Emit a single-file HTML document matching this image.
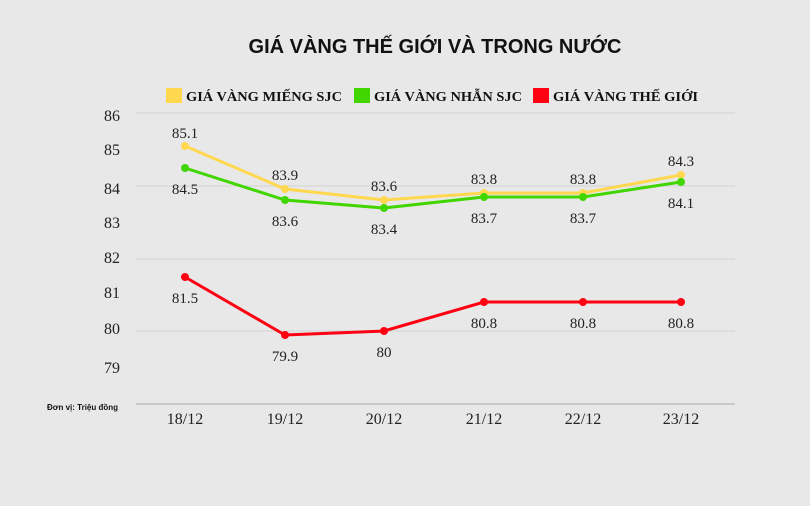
<!DOCTYPE html><html><head><style>body{margin:0;background:#e8e8e8;}svg{display:block}</style></head><body>
<svg width="810" height="506" xmlns="http://www.w3.org/2000/svg">
<rect width="810" height="506" fill="#e8e8e8"/>
<text x="435" y="53" text-anchor="middle" font-family="Liberation Sans, sans-serif" font-weight="bold" font-size="20" fill="#111">GIÁ VÀNG THẾ GIỚI VÀ TRONG NƯỚC</text>
<g font-family="Liberation Serif, serif" font-weight="bold" font-size="14" fill="#111">
<rect x="166" y="88" width="16" height="15" fill="#ffd84f"/><text x="186" y="101" textLength="156" lengthAdjust="spacingAndGlyphs">GIÁ VÀNG MIẾNG SJC</text>
<rect x="354" y="88" width="16" height="15" fill="#41d600"/><text x="374" y="101" textLength="148" lengthAdjust="spacingAndGlyphs">GIÁ VÀNG NHẪN SJC</text>
<rect x="533" y="88" width="16" height="15" fill="#ff0013"/><text x="553" y="101" textLength="145" lengthAdjust="spacingAndGlyphs">GIÁ VÀNG THẾ GIỚI</text>
</g>
<g stroke="#d2d2d2" stroke-width="1">
<line x1="136" y1="113" x2="735" y2="113"/><line x1="136" y1="186" x2="735" y2="186"/><line x1="136" y1="259" x2="735" y2="259"/><line x1="136" y1="331" x2="735" y2="331"/>
</g>
<line x1="136" y1="404" x2="735" y2="404" stroke="#bdbdbd" stroke-width="1.5"/>
<g font-family="Liberation Serif, serif" font-size="16" fill="#222" text-anchor="middle">
<text x="112" y="121">86</text><text x="112" y="155">85</text><text x="112" y="194">84</text><text x="112" y="228">83</text><text x="112" y="263">82</text><text x="112" y="298">81</text><text x="112" y="334">80</text><text x="112" y="373">79</text>
<text x="185" y="424">18/12</text><text x="285" y="424">19/12</text><text x="384" y="424">20/12</text><text x="484" y="424">21/12</text><text x="583" y="424">22/12</text><text x="681" y="424">23/12</text>
</g>
<text x="47" y="410" font-family="Liberation Sans, sans-serif" font-weight="bold" font-size="8" fill="#111">Đơn vị: Triệu đồng</text>
<g stroke-width="3" fill="none">
<polyline stroke="#ffd84f" points="185,146 285,189 384,200 484,193 583,193 681,175"/>
<polyline stroke="#41d600" points="185,168 285,200 384,208 484,197 583,197 681,182"/>
<polyline stroke="#ff0013" points="185,277 285,335 384,331 484,302 583,302 681,302"/>
</g>
<g fill="#ffd84f"><circle cx="185" cy="146" r="4"/><circle cx="285" cy="189" r="4"/><circle cx="384" cy="200" r="4"/><circle cx="484" cy="193" r="4"/><circle cx="583" cy="193" r="4"/><circle cx="681" cy="175" r="4"/></g>
<g fill="#41d600"><circle cx="185" cy="168" r="4"/><circle cx="285" cy="200" r="4"/><circle cx="384" cy="208" r="4"/><circle cx="484" cy="197" r="4"/><circle cx="583" cy="197" r="4"/><circle cx="681" cy="182" r="4"/></g>
<g fill="#ff0013"><circle cx="185" cy="277" r="4"/><circle cx="285" cy="335" r="4"/><circle cx="384" cy="331" r="4"/><circle cx="484" cy="302" r="4"/><circle cx="583" cy="302" r="4"/><circle cx="681" cy="302" r="4"/></g>
<g font-family="Liberation Serif, serif" font-size="15" fill="#222" text-anchor="middle">
<text x="185" y="138">85.1</text><text x="285" y="180">83.9</text><text x="384" y="191">83.6</text><text x="484" y="184">83.8</text><text x="583" y="184">83.8</text><text x="681" y="166">84.3</text>
<text x="185" y="194">84.5</text><text x="285" y="226">83.6</text><text x="384" y="234">83.4</text><text x="484" y="223">83.7</text><text x="583" y="223">83.7</text><text x="681" y="208">84.1</text>
<text x="185" y="303">81.5</text><text x="285" y="361">79.9</text><text x="384" y="357">80</text><text x="484" y="328">80.8</text><text x="583" y="328">80.8</text><text x="681" y="328">80.8</text>
</g>
</svg>
</body></html>
